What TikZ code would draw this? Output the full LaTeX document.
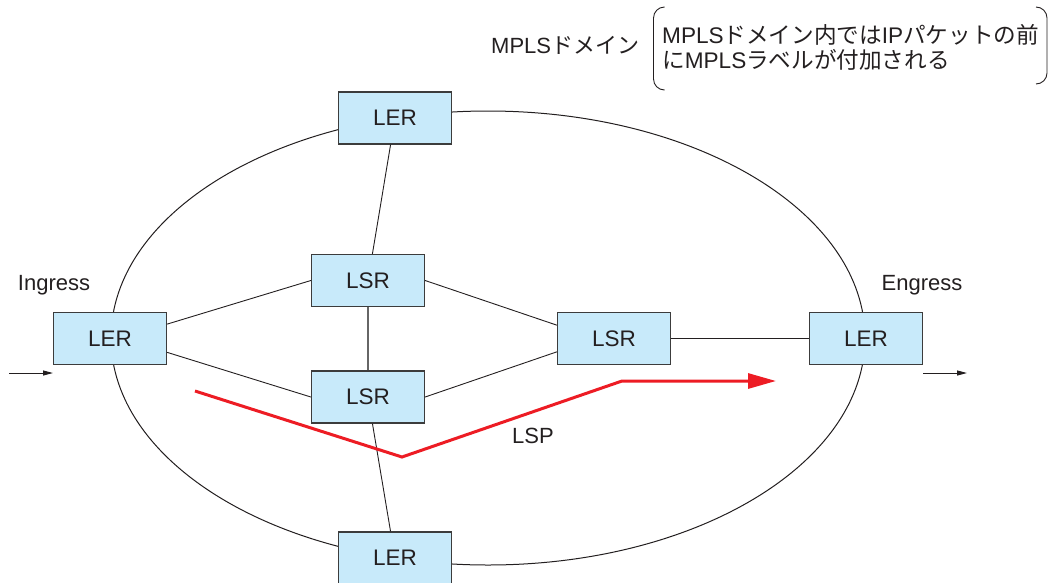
\documentclass[tikz,border=0pt]{standalone}
\usepackage{fontspec}
\setmainfont{Liberation Sans}
\newfontfamily\cjk{Noto Sans CJK JP}
\usetikzlibrary{arrows.meta,calc}

\definecolor{boxfill}{RGB}{200,234,250}
\definecolor{boxline}{RGB}{60,60,60}
\definecolor{ink}{RGB}{35,31,32}
\definecolor{lspred}{RGB}{237,28,36}

\tikzset{
  router/.style={draw=boxline, line width=1.3pt, fill=boxfill,
    minimum width=113pt, minimum height=52pt, inner sep=0pt,
    text=ink, font=\fontsize{22.5}{26}\selectfont},
  lbl/.style={text=ink, inner sep=0pt, anchor=base,
    font=\fontsize{22}{26}\selectfont},
  note/.style={lbl, anchor=base west, font=\fontsize{22.6}{26}\selectfont},
  link/.style={draw=ink, line width=0.9pt},
  trunk/.style={draw=black!60, line width=1.5pt},
  lsp/.style={draw=lspred, line width=3pt,
    -{Triangle[length=28pt,width=15pt]}},
  flow/.style={draw=ink, line width=1pt,
    -{Triangle[length=10pt,width=5pt]}},
  bracket/.style={draw=ink, line width=0.9pt, rounded corners=11pt}
}

\begin{document}
\begin{tikzpicture}[x=1pt, y=-1pt]
\useasboundingbox (0,0) rectangle (1052,582);

% the MPLS domain boundary
\draw[line width=1pt, draw=ink] (488,338) ellipse [x radius=377pt, y radius=227pt];

% edge routers and core routers
\node[router] (lt) at (395,118) {LER};
\node[router] (u)  at (368,280.5) {LSR};
\node[router] (d)  at (368,397) {LSR};
\node[router] (lb) at (395,558) {LER};
\node[router] (ll) at (110,338.5) {LER};
\node[router] (r)  at (614,338.5) {LSR};
\node[router] (lr) at (866,338.5) {LER};

% links
\draw[link] (lt) -- (u);
\draw[trunk] (u) -- (d);
\draw[link] (d) -- (lb);
\draw[link] ($(ll.north east)!0.23!(ll.south east)$) -- (u.west);
\draw[link] ($(ll.north east)!0.76!(ll.south east)$) -- (d.west);
\draw[link] (u.east) -- ($(r.north west)!0.25!(r.south west)$);
\draw[link] (d.east) -- ($(r.north west)!0.75!(r.south west)$);
\draw[link] (r) -- (lr);

% traffic entering and leaving the domain
\coordinate (inA) at (9,373);
\coordinate (inB) at (53,373);
\coordinate (outA) at (923,373);
\coordinate (outB) at (967,373);
\draw[flow] (inA) -- (inB);
\draw[flow] (outA) -- (outB);

% label switched path
\coordinate (p0) at (195,391);
\coordinate (p1) at (402,457);
\coordinate (p2) at (622,381);
\coordinate (p3) at (776,381);
\draw[lsp] (p0) -- (p1) -- (p2) -- (p3);

% labels
\node[lbl] (ing) at (54,290) {Ingress};
\node[lbl] (eng) at (922,290) {Engress};
\node[lbl] (lspl) at (533,443) {LSP};
\node[lbl, anchor=base west] (dom) at (491,53) {MPLS{\cjk ドメイン}};
\node[note] (n1) at (662,43) {MPLS{\cjk ドメイン内では}IP{\cjk パケットの前}};
\node[note] (n2) at (662,68) {{\cjk に}MPLS{\cjk ラベルが付加される}};

% brackets around the note
\draw[bracket] (664,7) -- (653.5,7) -- (653.5,90) -- (664,90);
\draw[bracket] (1036,7) -- (1047,7) -- (1047,84) -- (1036,84);
\end{tikzpicture}
\end{document}
